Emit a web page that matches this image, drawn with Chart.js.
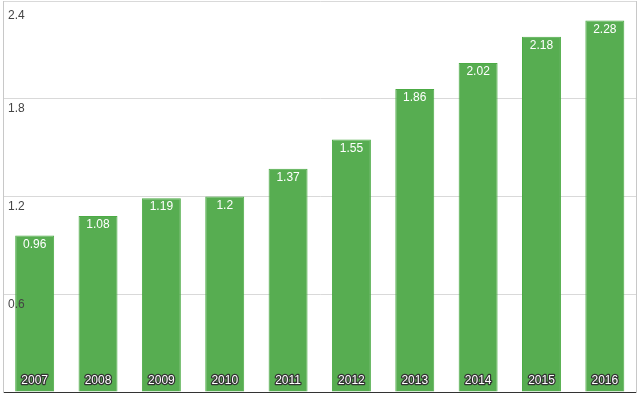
<!DOCTYPE html>
<html>
<head>
<meta charset="utf-8">
<script src="https://cdn.jsdelivr.net/npm/chart.js@4/dist/chart.umd.min.js"></script>
<style>
  html, body { margin: 0; padding: 0; background: #fff; }
  #wrap { width: 640px; height: 398px; }
</style>
</head>
<body>
<div id="wrap"><canvas id="bars"></canvas></div>
<script>
// data
var years = ['2007', '2008', '2009', '2010', '2011', '2012', '2013', '2014', '2015', '2016'];
var values = [0.96, 1.08, 1.19, 1.2, 1.37, 1.55, 1.86, 2.02, 2.18, 2.28];
var yTicks = [0, 0.6, 1.2, 1.8, 2.4];

var FONT = '12px Arial, "Liberation Sans", sans-serif';

// y tick labels sit inside the plot, just under their grid line
var axisLabels = {
  id: 'axisLabels',
  afterDatasetsDraw: function(chart) {
    var ctx = chart.ctx;
    var ys = chart.scales.y;
    var left = chart.chartArea.left;
    ctx.save();
    ctx.font = FONT;
    ctx.fillStyle = '#444';
    ctx.textAlign = 'left';
    ctx.textBaseline = 'middle';
    ys.ticks.forEach(function(t) {
      if (t.value === 0) return;
      var y = ys.getPixelForValue(t.value);
      var off = t.value === ys.max ? 15 : 10;
      ctx.fillText(String(t.value), left + 5, y + off);
    });
    ctx.restore();
  }
};

// year labels at the foot of each bar + value labels at the top
var barLabels = {
  id: 'barLabels',
  afterDatasetsDraw: function(chart) {
    var ctx = chart.ctx;
    var meta = chart.getDatasetMeta(0);
    var xs = chart.scales.x;
    var bottom = chart.chartArea.bottom;
    ctx.save();
    ctx.font = FONT;
    ctx.textAlign = 'center';
    ctx.textBaseline = 'middle';
    meta.data.forEach(function(bar, i) {
      ctx.fillStyle = '#fff';
      ctx.fillText(String(values[i]), bar.x, bar.y + 9);

      var x = xs.getPixelForTick(i);
      ctx.lineWidth = 2.5;
      ctx.lineJoin = 'round';
      ctx.strokeStyle = '#333';
      ctx.strokeText(years[i], x, bottom - 11);
      ctx.fillText(years[i], x, bottom - 11);
    });
    ctx.restore();
  }
};

var ctx = document.getElementById('bars').getContext('2d');
var barChart = new Chart(ctx, {
  type: 'bar',
  data: {
    labels: years,
    datasets: [{
      data: values,
      backgroundColor: '#57ad51',
      borderColor: '#4cab45',
      borderWidth: 1,
      barPercentage: 0.615,
      categoryPercentage: 1
    }]
  },
  options: {
    responsive: true,
    maintainAspectRatio: false,
    animation: false,
    layout: { padding: { top: 1, left: 3, right: 3.5, bottom: 6 } },
    plugins: {
      legend: { display: false },
      tooltip: { enabled: false }
    },
    scales: {
      x: {
        grid: { display: false, drawTicks: false },
        ticks: { display: false },
        border: { color: '#333', width: 1 }
      },
      y: {
        min: 0,
        max: 2.4,
        afterBuildTicks: function(scale) {
          scale.ticks = yTicks.map(function(v) { return { value: v }; });
        },
        grid: { color: '#d9d9d9', drawTicks: false },
        border: { color: '#c8c8c8' },
        ticks: { display: false }
      },
      y2: {
        position: 'right',
        min: 0,
        max: 2.4,
        grid: { display: false, drawTicks: false },
        ticks: { display: false },
        border: { color: '#c8c8c8' }
      }
    }
  },
  plugins: [barLabels, axisLabels]
});
</script>
</body>
</html>
